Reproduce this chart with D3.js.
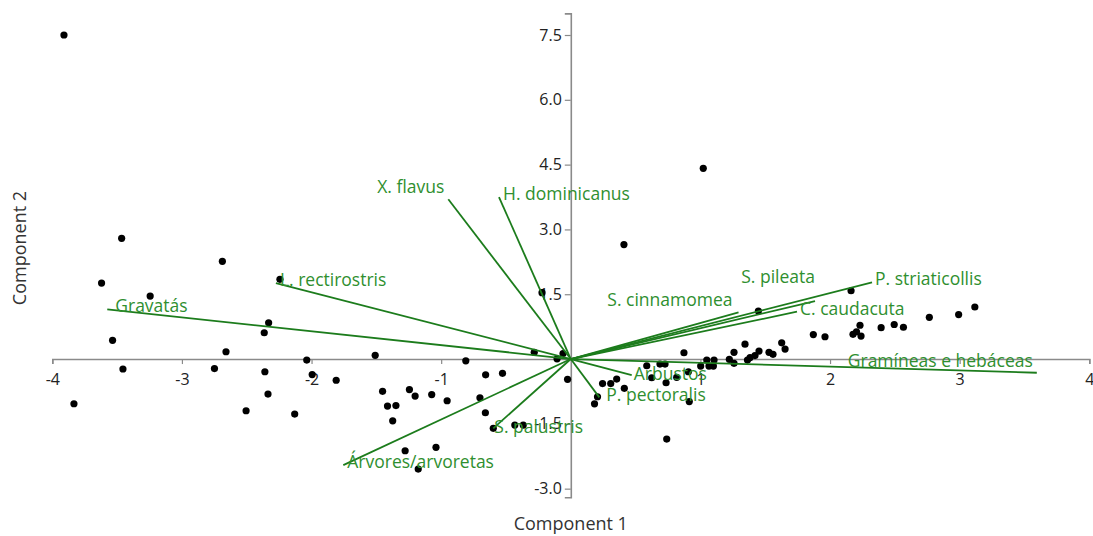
<!DOCTYPE html>
<html>
<head>
<meta charset="utf-8">
<script src="https://cdn.jsdelivr.net/npm/d3@7"></script>
<style>
  body { margin: 0; background: #fff; }
  svg text { font-family: "Open Sans", "Noto Sans", sans-serif; }
</style>
</head>
<body>
<div id="chart"></div>
<script>
// === Data ===
const pointX = [
  -3.910, -3.465, -2.688, -3.620, -3.245, -2.244, -2.331, -2.365, -3.535, -2.660,
  -3.455, -2.749, -2.360, -2.037, -1.995, -1.810, -1.509, -3.833, -2.336, -2.505,
  -2.130, -1.452, -1.414, -1.349, -1.374, -1.245, -1.201, -1.073, -0.954, -0.701,
  -0.659, -0.657, -0.527, -0.810, -0.282, -0.106, -0.060, -0.025, -0.598, -0.432,
  -0.367, -1.278, -1.040, -1.177, -0.222,
  1.022, 0.410, 1.447, 2.162, 3.117, 2.992, 2.766, 2.566, 2.495, 2.394,
  2.231, 2.204, 2.177, 2.239, 1.961, 1.871, 1.627, 1.653, 1.529, 1.560,
  1.452, 1.421, 1.383, 1.363, 1.344, 1.259, 1.259, 1.223, 1.105, 1.049,
  1.100, 1.066, 1.002, 0.873, 0.907, 0.817, 0.735, 0.624, 0.586, 0.688,
  0.727, 0.914, 0.740, 0.245, 0.308, 0.354, 0.413, 0.206, 0.183
];
const pointY = [
  7.500, 2.794, 2.262, 1.759, 1.458, 1.845, 0.838, 0.609, 0.433, 0.169,
  -0.231, -0.220, -0.294, -0.023, -0.359, -0.491, 0.086, -1.035, -0.810, -1.197,
  -1.273, -0.748, -1.088, -1.076, -1.431, -0.706, -0.856, -0.822, -0.965, -0.896,
  -1.243, -0.366, -0.331, -0.042, 0.155, 0.005, 0.127, -0.470, -1.604, -1.528,
  -1.528, -2.123, -2.044, -2.546, 1.535,
  4.414, 2.650, 1.111, 1.581, 1.204, 1.030, 0.965, 0.736, 0.799, 0.725,
  0.782, 0.632, 0.572, 0.532, 0.516, 0.567, 0.375, 0.231, 0.155, 0.109,
  0.185, 0.081, 0.035, -0.023, 0.343, 0.155, -0.100, -0.007, -0.023, -0.023,
  -0.162, -0.162, -0.162, 0.146, -0.294, -0.424, -0.549, -0.433, -0.155, -0.116,
  -0.116, -0.984, -1.852, -0.567, -0.567, -0.463, -0.678, -0.873, -1.037
];

const vectorNames = [
  "Gravatás", "L. rectirostris", "X. flavus", "H. dominicanus", "S. cinnamomea",
  "S. pileata", "C. caudacuta", "P. striaticollis", "Gramíneas e hebáceas",
  "Arbustos", "P. pectoralis", "S. palustris", "Árvores/arvoretas"
];
const vectorX = [-3.576, -2.275, -0.945, -0.554, 1.294, 1.884, 1.745, 2.324, 3.595, 0.470, 0.220, -0.598, -1.755];
const vectorY = [1.150, 1.759, 3.697, 3.750, 1.081, 1.343, 1.095, 1.775, -0.317, -0.370, -0.887, -1.604, -2.454];

const xTicks = [-4, -3, -2, -1, 1, 2, 3, 4];
const xTickLabels = ["-4", "-3", "-2", "-1", "1", "2", "3", "4"];
const yTicks = [7.5, 6.0, 4.5, 3.0, 1.5, -1.5, -3.0];
const yTickLabels = ["7.5", "6.0", "4.5", "3.0", "1.5", "-1.5", "-3.0"];

// label placement relative to the vector tip: [anchor, dx, dy]
const labelPlace = {
  "Gravatás": ["start", 8, 3],
  "L. rectirostris": ["start", 4, 3],
  "X. flavus": ["end", -4, -6],
  "H. dominicanus": ["start", 4, 3],
  "S. cinnamomea": ["end", -6, -6],
  "S. pileata": ["end", 0, -18],
  "C. caudacuta": ["start", 3, 3],
  "P. striaticollis": ["start", 3, 3],
  "Gramíneas e hebáceas": ["end", -4, -6],
  "Arbustos": ["start", 2, 5],
  "P. pectoralis": ["start", 7, 4],
  "S. palustris": ["start", 1, 5],
  "Árvores/arvoretas": ["start", 4, 3]
};

const width = 1093, height = 536;
const lineGreen = "#1c7c1c";
const textGreen = "#2f8f2f";

const svg = d3.select("#chart").append("svg")
  .attr("width", width)
  .attr("height", height);

const x = d3.scaleLinear().domain([-4, 4]).range([52.3, 1089.3]);
const y = d3.scaleLinear().domain([-3.2, 8.0]).range([497.3, 13.4]);

// Axes crossing at origin
const xAxis = svg.append("g")
  .attr("transform", `translate(0,${y(0)})`)
  .call(d3.axisBottom(x).tickValues(xTicks).tickSizeOuter(0).tickSize(5).tickPadding(10)
    .tickFormat((d, i) => xTickLabels[i]));

const yAxis = svg.append("g")
  .attr("transform", `translate(${x(0)},0)`)
  .call(d3.axisLeft(y).tickValues(yTicks).tickSizeOuter(0).tickSize(6).tickPadding(3)
    .tickFormat((d, i) => yTickLabels[i]));

[xAxis, yAxis].forEach(a => {
  a.select(".domain").attr("stroke", "#8a8a8a").attr("stroke-width", 1.6);
  a.selectAll(".tick line").attr("stroke", "#8a8a8a").attr("stroke-width", 1.2);
  a.selectAll(".tick text").attr("fill", "#222").attr("font-size", 16);
});

// Points
const points = pointX.map((v, i) => ({x: v, y: pointY[i]}));
svg.append("g")
  .selectAll("circle")
  .data(points)
  .join("circle")
  .attr("cx", d => x(d.x))
  .attr("cy", d => y(d.y))
  .attr("r", 3.6)
  .attr("fill", "#000");

// Loading vectors
const vectors = vectorNames.map((n, i) => ({name: n, x: vectorX[i], y: vectorY[i]}));
const vg = svg.append("g");
vg.selectAll("line")
  .data(vectors)
  .join("line")
  .attr("x1", x(0))
  .attr("y1", y(0))
  .attr("x2", d => x(d.x))
  .attr("y2", d => y(d.y))
  .attr("stroke", lineGreen)
  .attr("stroke-width", 1.8);

vg.selectAll("text")
  .data(vectors)
  .join("text")
  .attr("x", d => x(d.x) + labelPlace[d.name][1])
  .attr("y", d => y(d.y) + labelPlace[d.name][2])
  .attr("text-anchor", d => labelPlace[d.name][0])
  .attr("fill", textGreen)
  .attr("font-size", 17.5)
  .text(d => d.name);

// Axis titles
svg.append("text")
  .attr("x", x(0))
  .attr("y", 530)
  .attr("text-anchor", "middle")
  .attr("fill", "#333")
  .attr("font-size", 18)
  .text("Component 1");

svg.append("text")
  .attr("transform", "translate(26,248) rotate(-90)")
  .attr("text-anchor", "middle")
  .attr("fill", "#333")
  .attr("font-size", 18)
  .text("Component 2");
</script>
</body>
</html>
